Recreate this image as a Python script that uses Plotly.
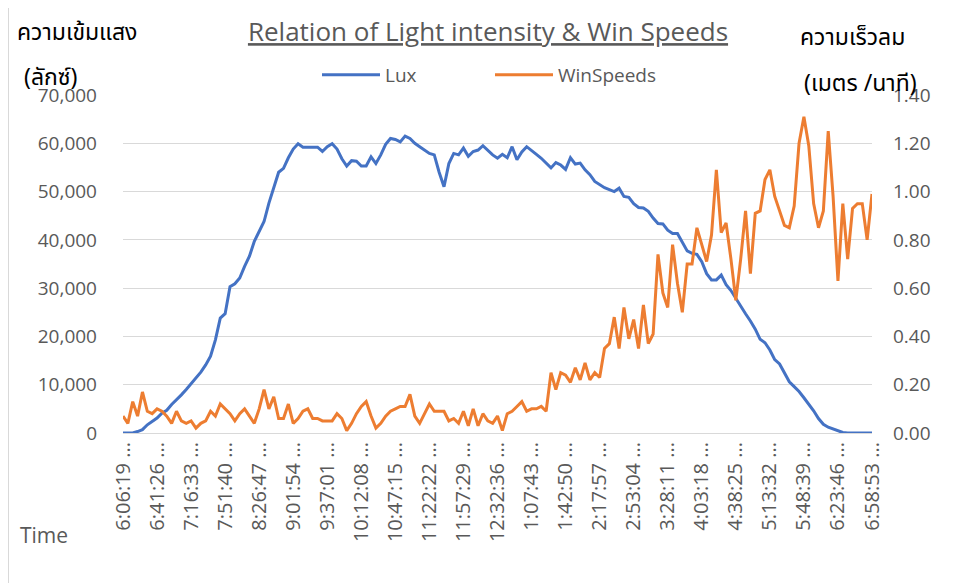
import datetime as dt
import plotly.graph_objects as go

# ---------------- data ----------------
START_TIME = "06:06:19"
STEP_SECONDS = 301
N_POINTS = 155

TICK_LABELS = ["6:06:19", "6:41:26", "7:16:33", "7:51:40", "8:26:47", "9:01:54",
               "9:37:01", "10:12:08", "10:47:15", "11:22:22", "11:57:29", "12:32:36",
               "1:07:43", "1:42:50", "2:17:57", "2:53:04", "3:28:11", "4:03:18",
               "4:38:25", "5:13:32", "5:48:39", "6:23:46", "6:58:53"]
TICK_EVERY = 7

LUX = [0, 0, 0, 300, 700, 1700, 2400, 3100, 4100, 4700,
       5900, 6800, 7900, 9000, 10200, 11400, 12600, 14100, 15900, 19300,
       23800, 24700, 30300, 30900, 32100, 34500, 36600, 39700, 41700, 43800,
       47600, 51000, 54000, 54800, 57000, 58800, 59900, 59200, 59200, 59200,
       59200, 58300, 59300, 59900, 58800, 56800, 55300, 56400, 56300, 55300,
       55300, 57200, 55800, 57600, 59800, 61000, 60800, 60300, 61500, 61000,
       60000, 59300, 58600, 57900, 57600, 54000, 51000, 55800, 57900, 57600,
       59000, 57300, 58300, 58600, 59500, 58500, 57600, 56900, 57700, 57000,
       59300, 56600, 58200, 59300, 58400, 57700, 56900, 56000, 54900, 56000,
       55500, 54600, 57000, 55700, 55900, 54500, 53500, 52100, 51400, 50800,
       50400, 50000, 50700, 49000, 48800, 47500, 46700, 46600, 45900, 44500,
       43400, 43300, 42000, 41300, 41300, 39500, 37700, 37200, 37000, 35500,
       33000, 31700, 31700, 32700, 30700, 29500, 27800, 26200, 24700, 23200,
       21500, 19400, 18700, 17200, 15200, 14300, 12400, 10600, 9600, 8600,
       7300, 6000, 4600, 3000, 1800, 1200, 800, 400, 100, 0,
       0, 0, 0, 0, 0]

WIN_SPEEDS = [0.07, 0.04, 0.13, 0.07, 0.17, 0.09, 0.08, 0.10, 0.09, 0.07,
              0.04, 0.09, 0.05, 0.04, 0.05, 0.02, 0.04, 0.05, 0.09, 0.07,
              0.12, 0.10, 0.08, 0.05, 0.08, 0.10, 0.07, 0.04, 0.10, 0.18,
              0.10, 0.15, 0.06, 0.06, 0.12, 0.04, 0.06, 0.09, 0.10, 0.06,
              0.06, 0.05, 0.05, 0.05, 0.08, 0.06, 0.01, 0.04, 0.08, 0.11,
              0.13, 0.07, 0.02, 0.04, 0.07, 0.09, 0.10, 0.11, 0.11, 0.16,
              0.07, 0.04, 0.08, 0.12, 0.09, 0.09, 0.09, 0.05, 0.06, 0.04,
              0.09, 0.03, 0.10, 0.03, 0.08, 0.05, 0.04, 0.07, 0.01, 0.08,
              0.09, 0.11, 0.13, 0.09, 0.10, 0.10, 0.11, 0.09, 0.25, 0.18,
              0.25, 0.24, 0.21, 0.27, 0.22, 0.29, 0.22, 0.25, 0.23, 0.35,
              0.37, 0.48, 0.35, 0.52, 0.39, 0.47, 0.35, 0.53, 0.37, 0.41,
              0.74, 0.58, 0.52, 0.78, 0.62, 0.50, 0.70, 0.70, 0.85, 0.78,
              0.71, 0.82, 1.09, 0.83, 0.87, 0.72, 0.55, 0.72, 0.92, 0.66,
              0.91, 0.92, 1.05, 1.09, 0.98, 0.92, 0.86, 0.85, 0.94, 1.20,
              1.31, 1.19, 0.95, 0.85, 0.92, 1.25, 0.98, 0.63, 0.95, 0.72,
              0.93, 0.95, 0.95, 0.80, 0.99]

# categories (time stamps, one every STEP_SECONDS)
t0 = dt.datetime.strptime(START_TIME, "%H:%M:%S")
TIMES = [(t0 + dt.timedelta(seconds=STEP_SECONDS * k)).strftime("%H:%M:%S") for k in range(N_POINTS)]

# ---------------- layout helpers ----------------
OFF = 8                      # page body margin
W, H = 961 - OFF, 583 - OFF  # figure size so that it fits the window
# plot area in reference-picture pixels
RL, RR, RT, RB = 123, 872, 95, 433
PL, PR, PT, PB = RL - OFF, RR - OFF, RT - OFF, RB - OFF


def px(x_ref):
    return (x_ref - OFF - PL) / (PR - PL)


def py(y_ref):
    return (PB - (y_ref - OFF)) / (PB - PT)


FONT = "Open Sans, Segoe UI, Arial, sans-serif"
THAI_FONT = "Noto Sans Thai, Tahoma, Loma, Garuda, DejaVu Sans, Noto Sans, sans-serif"
GRAY = "#595959"
GRID = "#d9d9d9"

fig = go.Figure()
fig.add_trace(go.Scatter(x=TIMES, y=LUX, name="Lux", mode="lines",
                         line=dict(color="#4472C4", width=3)))
fig.add_trace(go.Scatter(x=TIMES, y=WIN_SPEEDS, name="WinSpeeds", mode="lines",
                         line=dict(color="#ED7D31", width=3), yaxis="y2"))

fig.update_layout(
    width=W, height=H,
    margin=dict(l=PL, r=W - PR, t=PT, b=H - PB, autoexpand=False),
    paper_bgcolor="white", plot_bgcolor="white",
    font=dict(family=FONT, color=GRAY, size=19),
    title=dict(text="<u>Relation of Light intensity & Win Speeds</u>",
               x=(488 - OFF) / W, xref="container", xanchor="center",
               y=1 - (32 - OFF) / H, yref="container", yanchor="middle",
               font=dict(family=FONT, size=26, color=GRAY)),
    legend=dict(orientation="h", x=px(317), y=py(75), xanchor="left", yanchor="middle",
                font=dict(family=FONT, size=19, color=GRAY),
                itemwidth=58, entrywidth=100, entrywidthmode="pixels",
                bgcolor="rgba(0,0,0,0)"),
    xaxis=dict(type="category", range=[0, N_POINTS - 1],
               tickmode="array", tickvals=TIMES[::TICK_EVERY],
               ticktext=[lab + " ..." for lab in TICK_LABELS],
               tickangle=-90, ticks="", showgrid=False,
               showline=True, linecolor=GRID, linewidth=1,
               tickfont=dict(family=FONT, size=20, color=GRAY)),
    yaxis=dict(range=[0, 70000], dtick=10000, tickformat=",",
               showgrid=True, gridcolor=GRID, gridwidth=1, zeroline=False,
               ticks="", ticklabelstandoff=25,
               tickfont=dict(family=FONT, size=19, color=GRAY)),
    yaxis2=dict(range=[0, 1.4], dtick=0.2, tickformat=".2f", overlaying="y", side="right",
                showgrid=False, zeroline=False, ticks="", ticklabelstandoff=20,
                tickfont=dict(family=FONT, size=19, color=GRAY)),
)

annots = [
    ("ความเข้มแสง", 15, 33, THAI_FONT, 23, "black"),
    ("(ลักซ์)", 22, 78, THAI_FONT, 23, "black"),
    ("ความเร็วลม", 798, 38, THAI_FONT, 23, "black"),
    ("(เมตร /นาที)", 802, 84, THAI_FONT, 23, "black"),
    ("Time", 18, 535, FONT, 21, GRAY),
]
for text, x, y, fam, size, col in annots:
    fig.add_annotation(text=text, x=px(x), y=py(y), xref="paper", yref="paper",
                       xanchor="left", yanchor="middle", showarrow=False,
                       font=dict(family=fam, size=size, color=col))

fig.add_shape(type="rect", xref="paper", yref="paper",
              x0=px(8.5), x1=px(990), y0=py(4), y1=py(620),
              line=dict(color=GRID, width=1), fillcolor="rgba(0,0,0,0)", layer="below")

fig.write_html("out.html")
